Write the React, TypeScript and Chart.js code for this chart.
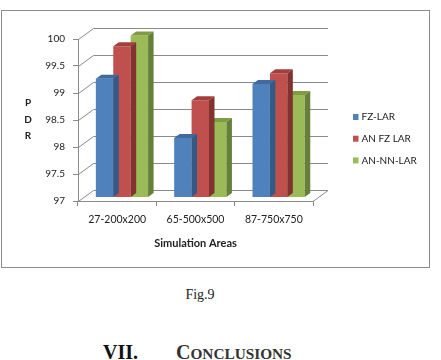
import React, { useEffect, useRef } from "react";
import { Chart, registerables } from "chart.js";

Chart.register(...registerables);

// Packet delivery ratio per simulation area
const categories = ["27-200x200", "65-500x500", "87-750x750"];
const seriesNames = ["FZ-LAR", "AN FZ LAR", "AN-NN-LAR"];
const fzLar = [99.2, 98.1, 99.1];
const anFzLar = [99.8, 98.8, 99.3];
const anNnLar = [100, 98.4, 98.9];
const yMin = 97;
const yMax = 100;
const yStep = 0.5;
const yTitleLetters = ["P", "D", "R"];
const xTitle = "Simulation Areas";

const frontColors = ["#4F81BD", "#C0504D", "#9BBB59"];
const topColors = ["#3F6B9F", "#A03F3C", "#7F9C45"];
const sideColors = ["#335985", "#823330", "#66803A"];

// depth of the floor and walls
const WALL_DX = 15;
const WALL_DY = -11;
// bars stand in the middle of the floor depth
const BAR_SHIFT_X = 4.8;
const BAR_SHIFT_Y = -3.5;
const BAR_DX = 5.5;
const BAR_DY = -4;

const GRID = "#8A8A8A";
const TEXT = "#222222";

const box3d = {
  id: "box3d",
  beforeDatasetsDraw(chart: any) {
    const { ctx, chartArea: a, scales } = chart;
    const y = scales.y;
    ctx.save();
    ctx.strokeStyle = GRID;
    ctx.lineWidth = 1;
    ctx.beginPath();
    y.ticks.forEach((t: any) => {
      const py = Math.round(y.getPixelForValue(t.value)) + 0.5;
      const lx = Math.round(a.left) + 0.5;
      ctx.moveTo(lx, py);
      ctx.lineTo(lx + WALL_DX, py + WALL_DY);
      ctx.lineTo(a.right + WALL_DX, py + WALL_DY);
    });
    const by = Math.round(a.bottom) + 0.5;
    ctx.moveTo(a.right, by);
    ctx.lineTo(a.right + WALL_DX, by + WALL_DY);
    ctx.stroke();
    ctx.restore();
    ctx.save();
    ctx.translate(BAR_SHIFT_X, BAR_SHIFT_Y);
  },
  afterDatasetDraw(chart: any, args: any) {
    const { ctx } = chart;
    const i = args.index;
    args.meta.data.forEach((bar: any) => {
      const { x, y, width, base } = bar.getProps(["x", "y", "width", "base"], true);
      const x0 = x - width / 2;
      const x1 = x + width / 2;
      ctx.fillStyle = topColors[i];
      ctx.beginPath();
      ctx.moveTo(x0, y);
      ctx.lineTo(x1, y);
      ctx.lineTo(x1 + BAR_DX, y + BAR_DY);
      ctx.lineTo(x0 + BAR_DX, y + BAR_DY);
      ctx.closePath();
      ctx.fill();
      ctx.fillStyle = sideColors[i];
      ctx.beginPath();
      ctx.moveTo(x1, y);
      ctx.lineTo(x1 + BAR_DX, y + BAR_DY);
      ctx.lineTo(x1 + BAR_DX, base + BAR_DY);
      ctx.lineTo(x1, base);
      ctx.closePath();
      ctx.fill();
    });
  },
  afterDatasetsDraw(chart: any) {
    chart.ctx.restore();
  },
  afterDraw(chart: any) {
    const { ctx } = chart;
    ctx.save();
    // stacked y-axis title
    ctx.font = "bold 10px Lato";
    ctx.fillStyle = TEXT;
    ctx.textAlign = "center";
    ctx.textBaseline = "middle";
    yTitleLetters.forEach((ch, k) => {
      ctx.fillText(ch, 26, 92 + k * 16.3);
    });
    // legend
    ctx.font = "10px Lato";
    ctx.textAlign = "left";
    chart.data.datasets.forEach((ds: any, k: number) => {
      const cy = 106 + k * 21.7;
      ctx.fillStyle = ds.backgroundColor;
      ctx.fillRect(351, cy - 3, 5.5, 6);
      ctx.fillStyle = TEXT;
      ctx.fillText(ds.label, 359.5, cy);
    });
    ctx.restore();
  },
};

function BarChart() {
  const ref = useRef<HTMLCanvasElement>(null);
  useEffect(() => {
    const canvas = ref.current;
    if (!canvas) return;
    Chart.defaults.font.family = "Lato";
    const values = [fzLar, anFzLar, anNnLar];
    const chart = new Chart(canvas, {
      type: "bar",
      data: {
        labels: categories,
        datasets: seriesNames.map((name, i) => ({
          label: name,
          data: values[i],
          base: yMin,
          backgroundColor: frontColors[i],
          borderWidth: 0,
          categoryPercentage: 0.667,
          barPercentage: 1,
          clip: false as any,
        })),
      },
      options: {
        responsive: false,
        animation: false,
        devicePixelRatio: 1,
        events: [],
        layout: { padding: { left: 0, right: 116, top: 28, bottom: 0 } },
        plugins: {
          legend: { display: false },
          tooltip: { enabled: false },
        },
        scales: {
          x: {
            grid: {
              drawOnChartArea: false,
              drawTicks: true,
              tickLength: 5,
              color: GRID,
            },
            border: { display: true, color: GRID },
            ticks: { color: TEXT, font: { size: 10.5 }, padding: 7, maxRotation: 0 },
            title: {
              display: true,
              text: xTitle,
              color: TEXT,
              font: { size: 11, weight: "bold" },
              padding: { top: 4, bottom: 16.5 },
            },
            afterFit: (s: any) => {
              s.height = 66;
            },
          },
          y: {
            min: yMin,
            max: yMax,
            grid: {
              drawOnChartArea: false,
              drawTicks: true,
              tickLength: 5,
              color: GRID,
            },
            border: { display: true, color: GRID },
            ticks: {
              stepSize: yStep,
              color: TEXT,
              font: { size: 10 },
              padding: 8,
              callback: (v: any) => String(Number(v)),
            },
            afterFit: (s: any) => {
              s.width = 76;
            },
          },
        },
      },
      plugins: [box3d],
    });
    return () => chart.destroy();
  }, []);
  return (
    <canvas
      ref={ref}
      width={427}
      height={256}
      style={{ display: "block", width: 427, height: 256 }}
    />
  );
}

export default function App() {
  return (
    <div
      style={{
        position: "fixed",
        left: 0,
        top: 0,
        width: 441,
        height: 360,
        overflow: "hidden",
        background: "#fff",
        fontFamily: '"Liberation Serif", "Times New Roman", serif',
      }}
    >
      <div
        style={{
          position: "absolute",
          left: 1,
          top: 10,
          width: 427,
          height: 256,
          border: "1px solid #8C8C8C",
        }}
      >
        <BarChart />
      </div>
      <div
        style={{
          position: "absolute",
          left: 150,
          width: 100,
          top: 288,
          fontSize: 14,
          lineHeight: "14px",
          textAlign: "center",
          color: "#222",
        }}
      >
        Fig.9
      </div>
      <div
        style={{
          position: "absolute",
          left: 103,
          top: 342,
          fontSize: 20,
          lineHeight: "20px",
          fontWeight: "bold",
          color: "#111",
          whiteSpace: "nowrap",
        }}
      >
        VII.
      </div>
      <div
        style={{
          position: "absolute",
          left: 176,
          top: 342,
          fontSize: 20,
          lineHeight: "20px",
          fontWeight: "bold",
          color: "#333",
          whiteSpace: "nowrap",
        }}
      >
        C<span style={{ fontSize: 15.3 }}>ONCLUSIONS</span>
      </div>
    </div>
  );
}
